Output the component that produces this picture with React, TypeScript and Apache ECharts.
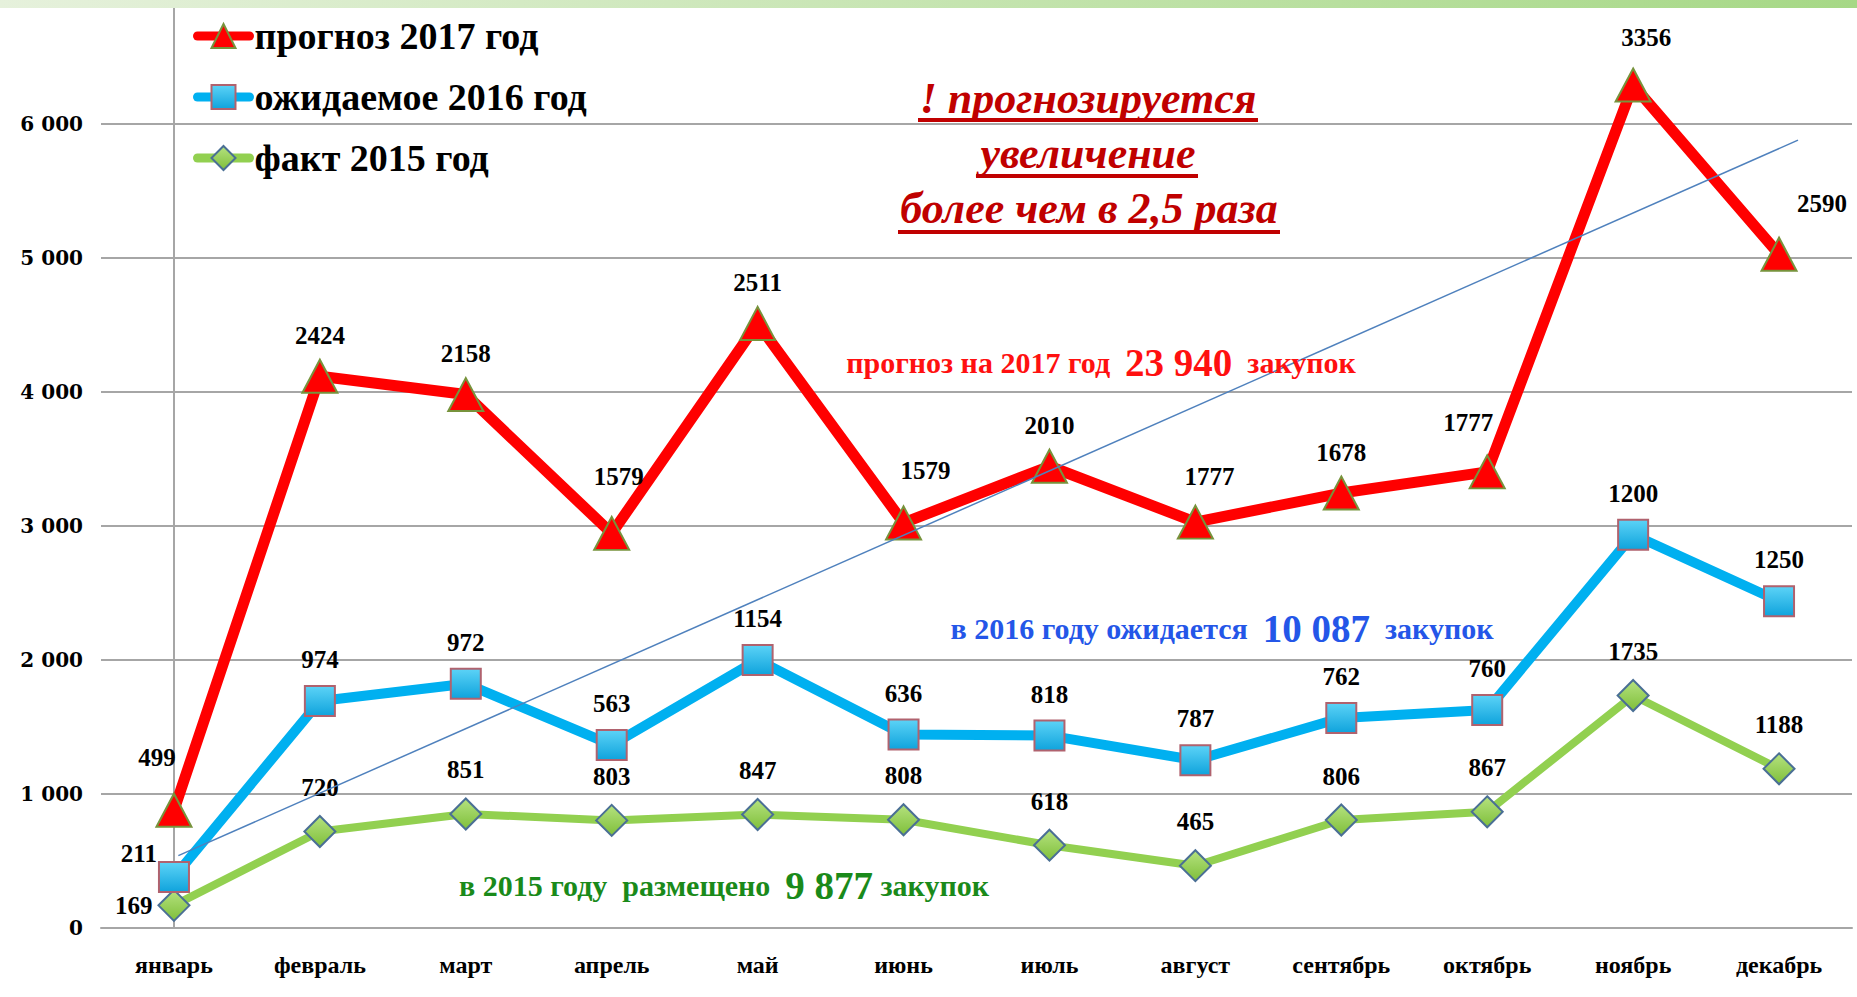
import React, { useEffect, useRef } from "react";
import * as echarts from "echarts";

const months = ["январь", "февраль", "март", "апрель", "май", "июнь", "июль", "август", "сентябрь", "октябрь", "ноябрь", "декабрь"];
const fact2015 = [169, 720, 851, 803, 847, 808, 618, 465, 806, 867, 1735, 1188];
const expected2016 = [211, 974, 972, 563, 1154, 636, 818, 787, 762, 760, 1200, 1250];
const forecast2017 = [499, 2424, 2158, 1579, 2511, 1579, 2010, 1777, 1678, 1777, 3356, 2590];
const trendPoints = [[0.03, 540], [11.13, 5880]];
const seriesNames = ["прогноз 2017 год", "ожидаемое 2016 год", "факт 2015 год"];

const SERIF = "'Liberation Serif', 'Times New Roman', serif";

const redOffsets: Record<number, number[]> = { 0: [-17, -12], 3: [7, -16], 5: [22, -11], 7: [14, -5], 9: [-19, -8], 10: [13, -7], 11: [43, -10] };

function withLabels(values: number[], overrides: Record<number, any>) {
  return values.map((v, i) => (overrides[i] ? { value: v, label: overrides[i] } : v));
}

export default function App() {
  const ref = useRef<HTMLDivElement>(null);
  useEffect(() => {
    if (!ref.current) return;
    const chart = echarts.init(ref.current, null, { renderer: "svg" });
    const labelBase = { show: true, position: "top", color: "#000", fontFamily: SERIF, fontWeight: "bold", fontSize: 25 };
    const redLabelOv: Record<number, any> = {};
    Object.keys(redOffsets).forEach((k) => { redLabelOv[+k] = { offset: redOffsets[+k] }; });

    const annotation = (text: string, color: string, x: number, y: number, a: number, b: number) => ({
      type: "text",
      x,
      y,
      style: {
        text,
        fill: color,
        align: "center",
        verticalAlign: "middle",
        rich: {
          a: { fontFamily: SERIF, fontWeight: "bold", fontSize: a, fill: color },
          b: { fontFamily: SERIF, fontWeight: "bold", fontSize: b, fill: color },
        },
      },
      z: 10,
    });

    chart.setOption({
      animation: false,
      backgroundColor: "#fff",
      grid: { left: 101, right: 5, top: 8, bottom: 69 },
      legend: {
        data: seriesNames,
        orient: "vertical",
        left: 193,
        top: 17,
        itemWidth: 52,
        itemHeight: 30,
        itemGap: 23,
        padding: 0,
        lineStyle: { width: 9, cap: "round" },
        textStyle: { fontFamily: SERIF, fontWeight: "bold", fontSize: 38, color: "#000", lineHeight: 36 },
      },
      xAxis: [
        {
          type: "category",
          data: months,
          boundaryGap: true,
          axisLine: { lineStyle: { color: "#A6A6A6", width: 2 } },
          axisTick: { show: false },
          axisLabel: { color: "#000", fontFamily: SERIF, fontWeight: "bold", fontSize: 24, margin: 25 },
        },
        { type: "value", min: -0.5, max: 11.5, show: false, gridIndex: 0 },
      ],
      yAxis: {
        type: "value",
        min: 0,
        max: 6866,
        interval: 1000,
        axisLine: { show: true, lineStyle: { color: "#A6A6A6", width: 2 } },
        axisTick: { show: false },
        splitLine: { lineStyle: { color: "#A6A6A6", width: 2 }, showMaxLine: false },
        axisLabel: {
          showMaxLabel: false,
          margin: 18,
          color: "#000",
          fontFamily: "'DejaVu Serif', serif",
          fontWeight: "bold",
          fontSize: 20,
          formatter: (v: number) => (v % 1000 === 0 ? (v === 0 ? "0" : `${v / 1000} 000`) : ""),
        },
      },
      series: [
        {
          name: seriesNames[2],
          type: "line",
          stack: "total",
          data: withLabels(fact2015, { 0: { position: "left", distance: 5, offset: [0, 0] } }),
          lineStyle: { color: "#92D050", width: 8 },
          itemStyle: {
            color: new echarts.graphic.LinearGradient(0, 0, 0, 1, [
              { offset: 0, color: "#B5E27F" },
              { offset: 1, color: "#7FBF3A" },
            ]),
            borderColor: "#4A6F95",
            borderWidth: 2,
          },
          symbol: "diamond",
          symbolSize: [31, 31],
          z: 3,
          label: { ...labelBase, distance: 15 },
        },
        {
          name: seriesNames[1],
          type: "line",
          stack: "total",
          data: withLabels(expected2016, { 0: { position: "left", distance: 5, offset: [4, -24] } }),
          lineStyle: { color: "#00B0F0", width: 10 },
          itemStyle: {
            color: new echarts.graphic.LinearGradient(0, 0, 0, 1, [
              { offset: 0, color: "#5CD3F7" },
              { offset: 1, color: "#0FA3DC" },
            ]),
            borderColor: "#B0626E",
            borderWidth: 2,
          },
          symbol: "rect",
          symbolSize: 30,
          z: 4,
          label: { ...labelBase, distance: 13 },
        },
        {
          name: seriesNames[0],
          type: "line",
          stack: "total",
          data: withLabels(forecast2017, redLabelOv),
          lineStyle: { color: "#FF0000", width: 11 },
          itemStyle: { color: "#FF0000", borderColor: "#77933C", borderWidth: 2 },
          symbol: "triangle",
          symbolSize: [35, 33],
          z: 5,
          label: { ...labelBase, distance: 11 },
        },
        {
          name: "trend",
          type: "line",
          xAxisIndex: 1,
          data: trendPoints,
          symbol: "none",
          silent: true,
          lineStyle: { color: "#4F81BD", width: 1.5 },
          z: 6,
        },
      ],
      graphic: [
        {
          type: "rect",
          shape: { x: 0, y: 0, width: 1857, height: 8 },
          style: {
            fill: new echarts.graphic.LinearGradient(0, 0, 1, 0, [
              { offset: 0, color: "#E6F1DC" },
              { offset: 1, color: "#A6D886" },
            ]),
          },
          z: 10,
        },
        {
          type: "text",
          x: 1088,
          y: 98,
          style: { text: "! прогнозируется", fill: "#C00000", font: `italic bold 44px ${SERIF}`, align: "center", verticalAlign: "middle" },
          z: 10,
        },
        {
          type: "text",
          x: 1088,
          y: 153,
          style: { text: "увеличение", fill: "#C00000", font: `italic bold 44px ${SERIF}`, align: "center", verticalAlign: "middle" },
          z: 10,
        },
        {
          type: "text",
          x: 1089,
          y: 208,
          style: { text: "более чем в 2,5 раза", fill: "#C00000", font: `italic bold 44px ${SERIF}`, align: "center", verticalAlign: "middle" },
          z: 10,
        },
        { type: "line", shape: { x1: 918, y1: 120, x2: 1258, y2: 120 }, style: { stroke: "#C00000", lineWidth: 4 }, z: 10 },
        { type: "line", shape: { x1: 976, y1: 176, x2: 1198, y2: 176 }, style: { stroke: "#C00000", lineWidth: 4 }, z: 10 },
        { type: "line", shape: { x1: 898, y1: 232, x2: 1280, y2: 232 }, style: { stroke: "#C00000", lineWidth: 4 }, z: 10 },
        annotation("{a|прогноз на 2017 год  }{b|23 940}{a|  закупок}", "#FF1010", 1101, 362, 30, 39),
        annotation("{a|в 2016 году ожидается  }{b|10 087}{a|  закупок}", "#2456E8", 1222, 628, 30, 39),
        annotation("{a|в 2015 году  размещено  }{b|9 877}{a| закупок}", "#1A8A1A", 724, 885, 30, 39),
      ],
    });
    return () => chart.dispose();
  }, []);
  return <div ref={ref} style={{ position: "fixed", left: 0, top: 0, width: 1857, height: 997 }} />;
}
